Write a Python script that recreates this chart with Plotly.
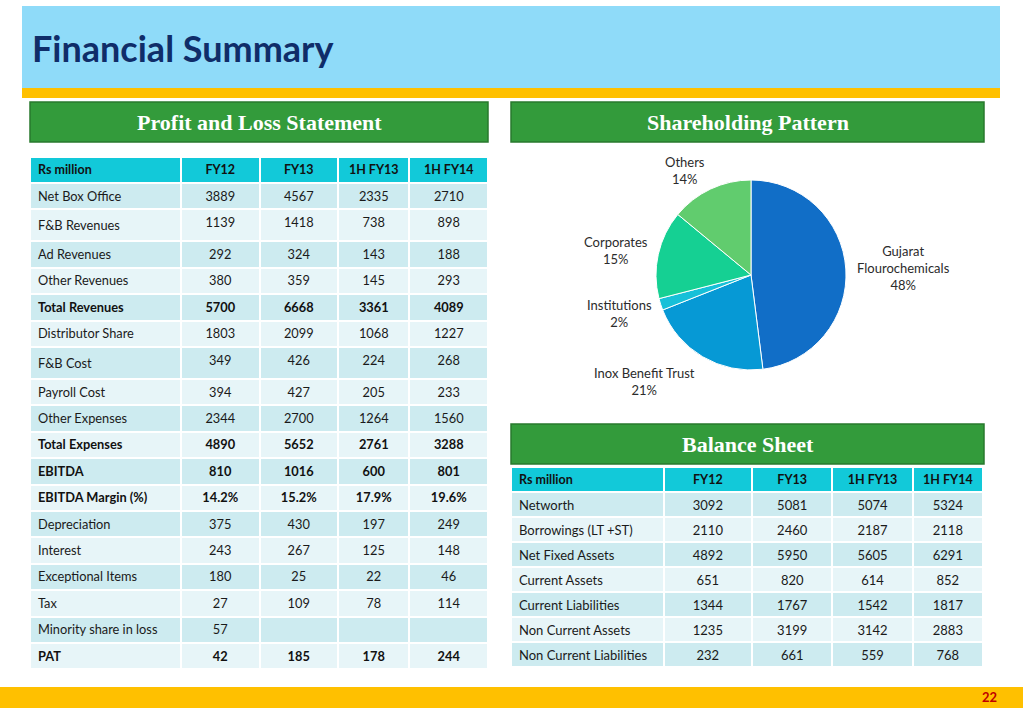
import plotly.graph_objects as go

W, H = 1023, 708

# ---- data ----
years = ["FY12", "FY13", "1H FY13", "1H FY14"]

pl_items = ["Net Box Office", "F&B Revenues", "Ad Revenues", "Other Revenues",
            "Total Revenues", "Distributor Share", "F&B Cost", "Payroll Cost",
            "Other Expenses", "Total Expenses", "EBITDA", "EBITDA Margin (%)",
            "Depreciation", "Interest", "Exceptional Items", "Tax",
            "Minority share in loss", "PAT"]
pl_fy12 = [3889, 1139, 292, 380, 5700, 1803, 349, 394, 2344, 4890, 810, "14.2%",
           375, 243, 180, 27, 57, 42]
pl_fy13 = [4567, 1418, 324, 359, 6668, 2099, 426, 427, 2700, 5652, 1016, "15.2%",
           430, 267, 25, 109, None, 185]
pl_h1fy13 = [2335, 738, 143, 145, 3361, 1068, 224, 205, 1264, 2761, 600, "17.9%",
             197, 125, 22, 78, None, 178]
pl_h1fy14 = [2710, 898, 188, 293, 4089, 1227, 268, 233, 1560, 3288, 801, "19.6%",
             249, 148, 46, 114, None, 244]
pl_bold = ["Total Revenues", "Total Expenses", "EBITDA", "EBITDA Margin (%)", "PAT"]

bs_items = ["Networth", "Borrowings (LT +ST)", "Net Fixed Assets", "Current Assets",
            "Current Liabilities", "Non Current Assets", "Non Current Liabilities"]
bs_fy12 = [3092, 2110, 4892, 651, 1344, 1235, 232]
bs_fy13 = [5081, 2460, 5950, 820, 1767, 3199, 661]
bs_h1fy13 = [5074, 2187, 5605, 614, 1542, 3142, 559]
bs_h1fy14 = [5324, 2118, 6291, 852, 1817, 2883, 768]

holders = ["Gujarat Flourochemicals", "Inox Benefit Trust", "Institutions",
           "Corporates", "Others"]
holder_labels = ["Gujarat<br>Flourochemicals", "Inox Benefit Trust", "Institutions",
                 "Corporates", "Others"]
holding_pct = [48, 21, 2, 15, 14]

# ---- styling ----
CYAN = "#12C9D9"
DARK_ROW = "#CDEBF0"
LIGHT_ROW = "#E7F5F8"
GREEN = "#339B3B"
GREEN_EDGE = "#287A2E"
CLEAR = "rgba(0,0,0,0)"
SANS = "Lato, 'Open Sans', sans-serif"
SERIF = "'Liberation Serif', 'DejaVu Serif', serif"
ALIGN = ["left", "center", "center", "center", "center"]


def py(px):
    return 1 - px / H


def cell(v):
    return "" if v is None else str(v)


fig = go.Figure()

# profit and loss table: plain rows in one table, bold rows in a clear overlay
pl_dom = dict(x=[30 / W, 488 / W], y=[py(684), py(157)])
pl_widths = [150, 78, 78, 71, 78]
is_bold = [it in pl_bold for it in pl_items]
# rows holding "&" get a bit taller in plotly tables, so the overlay gets an
# invisible entity in those rows to keep both layers aligned
is_amp = ["&" in it for it in pl_items]
pl_cols = [pl_items, pl_fy12, pl_fy13, pl_h1fy13, pl_h1fy14]
plain_cols = [["" if b else cell(v) for v, b in zip(col, is_bold)] for col in pl_cols]
bold_cols = [[cell(v) if b else "" for v, b in zip(col, is_bold)] for col in pl_cols]
bold_cols[0] = ["&nbsp;" if a else t for t, a in zip(bold_cols[0], is_amp)]
pl_fill = [DARK_ROW if i % 2 == 0 else LIGHT_ROW for i in range(len(pl_items))]

fig.add_trace(go.Table(
    domain=pl_dom, columnwidth=pl_widths,
    header=dict(values=["Rs million"] + years,
                fill_color=CYAN, line=dict(color="white", width=2), align=ALIGN,
                font=dict(family=SANS, size=12.5, color="#111111", weight=700),
                height=26),
    cells=dict(values=plain_cols, fill_color=[pl_fill] * 5,
               line=dict(color="white", width=2), align=ALIGN,
               font=dict(family=SANS, size=12.8, color="#1a1a1a"), height=26.4),
))
fig.add_trace(go.Table(
    domain=pl_dom, columnwidth=pl_widths,
    header=dict(values=["Rs million"] + years, fill_color=CLEAR,
                line=dict(color=CLEAR, width=2), align=ALIGN,
                font=dict(family=SANS, size=12.5, color=CLEAR, weight=700),
                height=26),
    cells=dict(values=bold_cols, fill_color=CLEAR,
               line=dict(color=CLEAR, width=2), align=ALIGN,
               font=dict(family=SANS, size=12.8, color="#111111", weight=700),
               height=26.4),
))

# balance sheet table
bs_cols = [bs_items, bs_fy12, bs_fy13, bs_h1fy13, bs_h1fy14]
bs_fill = [DARK_ROW if i % 2 == 0 else LIGHT_ROW for i in range(len(bs_items))]
fig.add_trace(go.Table(
    domain=dict(x=[511 / W, 983 / W], y=[py(684), py(467)]),
    columnwidth=[152, 88, 80, 80, 70],
    header=dict(values=["Rs million"] + years,
                fill_color=CYAN, line=dict(color="white", width=2), align=ALIGN,
                font=dict(family=SANS, size=12.5, color="#111111", weight=700),
                height=25),
    cells=dict(values=bs_cols, fill_color=[bs_fill] * 5,
               line=dict(color="white", width=2), align=ALIGN,
               font=dict(family=SANS, size=13, color="#1a1a1a"), height=25),
))

# shareholding pie
fig.add_trace(go.Pie(
    labels=holders, values=holding_pct, sort=False, direction="clockwise",
    rotation=0, textinfo="none", hoverinfo="label+percent",
    marker=dict(colors=["#116EC7", "#0699D5", "#17C0D8", "#15D093", "#61CC6E"],
                line=dict(color="white", width=1)),
    domain=dict(x=[656 / W, 846 / W], y=[py(370), py(180)]),
    showlegend=False,
))

pie_label_pos = [(903, 268), (644, 381), (619, 313), (616, 250), (685, 170)]
annotations = []
for lab, pct, (ax, ay) in zip(holder_labels, holding_pct, pie_label_pos):
    annotations.append(dict(x=ax, y=ay, xref="x", yref="y", showarrow=False,
                            text="%s<br>%d%%" % (lab, pct),
                            font=dict(family=SANS, size=13, color="#2b2b2b")))

# slide furniture
shapes = [
    dict(type="rect", x0=22, x1=1000, y0=6, y1=88, fillcolor="#8FDBF9", line_width=0),
    dict(type="rect", x0=22, x1=1000, y0=88, y1=98, fillcolor="#FFC000", line_width=0),
    dict(type="rect", x0=0, x1=W, y0=687, y1=H, fillcolor="#FFC000", line_width=0),
]
boxes = [("Profit and Loss Statement", 30, 488, 102, 142),
         ("Shareholding Pattern", 511, 984, 102, 142),
         ("Balance Sheet", 511, 984, 424, 464)]
for txt, x0, x1, y0, y1 in boxes:
    shapes.append(dict(type="rect", x0=x0, x1=x1, y0=y0, y1=y1, fillcolor=GREEN,
                       line=dict(color=GREEN_EDGE, width=1.5)))
    annotations.append(dict(x=(x0 + x1) / 2, y=(y0 + y1) / 2, xref="x", yref="y",
                            text="<b>%s</b>" % txt, showarrow=False,
                            font=dict(family=SERIF, size=22, color="white")))

annotations.append(dict(x=30, y=48, xref="x", yref="y", xanchor="left",
                        text="<b>Financial Summary</b>", showarrow=False,
                        font=dict(family=SANS, size=36, color="#0F2D69")))
annotations.append(dict(x=999, y=697, xref="x", yref="y", xanchor="right",
                        text="<b>22</b>", showarrow=False,
                        font=dict(family=SANS, size=13, color="#C00000")))

fig.update_layout(
    width=W, height=H, margin=dict(l=0, r=0, t=0, b=0),
    paper_bgcolor="white", plot_bgcolor="white",
    xaxis=dict(range=[0, W], visible=False, fixedrange=True),
    yaxis=dict(range=[H, 0], visible=False, fixedrange=True),
    shapes=shapes, annotations=annotations, showlegend=False,
)

fig.write_html("out.html", config={"displayModeBar": False},
               post_script="document.body.style.margin='0';"
                           "document.body.style.overflow='hidden';")
